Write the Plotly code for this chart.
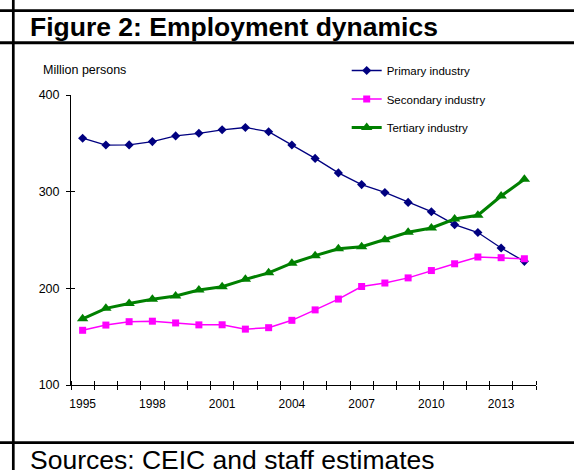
import plotly.graph_objects as go

years = list(range(1995, 2015))
primary = [355.3, 348.2, 348.4, 351.8, 357.7, 360.4, 364.0, 366.4, 362.0, 348.3,
           334.4, 319.4, 307.3, 299.2, 288.9, 279.3, 265.9, 257.7, 241.7, 227.9]
secondary = [156.6, 162.0, 165.5, 166.0, 164.2, 162.2, 162.3, 157.8, 159.3, 166.9,
             177.7, 188.9, 201.9, 205.5, 210.8, 218.4, 225.4, 232.4, 231.7, 230.6]
tertiary = [168.5, 179.3, 184.3, 188.6, 192.1, 198.2, 201.7, 209.3, 216.0, 226.0,
            233.8, 241.0, 243.1, 250.3, 258.0, 262.4, 271.7, 275.6, 295.5, 312.8]
series_names = ["Primary industry", "Secondary industry", "Tertiary industry"]
x_labels = [1995, 1998, 2001, 2004, 2007, 2010, 2013]
y_ticks = [100, 200, 300, 400]

W, H = 574, 470
ML, MR, MT, MB = 71, 38, 95, 85
PW, PH = W - ML - MR, H - MT - MB
FONT = "Arial, Liberation Sans, sans-serif"


def px(x):
    return (x - ML) / PW


def py(y):
    return (H - MB - y) / PH


fig = go.Figure()
fig.add_trace(go.Scatter(
    x=years, y=primary, name=series_names[0], legendgroup="a",
    mode="lines+markers", line=dict(color="#000080", width=1.3),
    marker=dict(symbol="diamond", size=7, color="#000080"), xaxis="x", yaxis="y"))
fig.add_trace(go.Scatter(
    x=years, y=secondary, name=series_names[1], legendgroup="b",
    mode="lines+markers", line=dict(color="#FF00FF", width=1.5),
    marker=dict(symbol="square", size=7, color="#FF00FF"), xaxis="x", yaxis="y"))
fig.add_trace(go.Scatter(
    x=years, y=tertiary, name=series_names[2], legendgroup="c",
    mode="lines+markers", line=dict(color="#008000", width=3),
    marker=dict(symbol="triangle-up", size=10, color="#008000"), xaxis="x2", yaxis="y2"))

xr = [years[0] - 0.5, years[-1] + 0.5]
yr = [y_ticks[0], y_ticks[-1]]
bounds = [y - 0.5 for y in years] + [years[-1] + 0.5]

common_x = dict(range=xr, showgrid=False, zeroline=False, fixedrange=True)
common_y = dict(range=yr, showgrid=False, zeroline=False, fixedrange=True)

fig.update_layout(
    width=W, height=H,
    margin=dict(l=ML, r=MR, t=MT, b=MB, pad=0),
    paper_bgcolor="white", plot_bgcolor="white",
    font=dict(family=FONT, color="#000000", size=12),
    showlegend=True,
    legend=dict(x=px(346.7), y=py(56), xanchor="left", yanchor="top",
                font=dict(size=11.5, family=FONT), tracegroupgap=9.5,
                bgcolor="rgba(0,0,0,0)", borderwidth=0),
    xaxis=dict(**common_x, tickmode="array", tickvals=x_labels,
               ticktext=[str(v) for v in x_labels], ticks="",
               showline=True, linecolor="#000000", linewidth=1,
               tickfont=dict(size=12), ticklabelstandoff=8,
               minor=dict(tickmode="array", tickvals=bounds, ticks="outside",
                          ticklen=4, tickwidth=1, tickcolor="#000000")),
    yaxis=dict(**common_y, tickmode="array", tickvals=y_ticks, ticks="outside",
               ticklen=4, tickwidth=1, tickcolor="#000000",
               showline=True, linecolor="#000000", linewidth=1,
               tickfont=dict(size=12.5), ticklabelstandoff=4),
    xaxis2=dict(**common_x, overlaying="x", anchor="y2", side="bottom",
                tickmode="array", tickvals=x_labels, ticks="", showticklabels=False,
                showline=False,
                minor=dict(tickmode="array", tickvals=bounds, ticks="inside",
                           ticklen=4, tickwidth=1, tickcolor="#000000")),
    yaxis2=dict(**common_y, overlaying="y", anchor="x2", side="left",
                tickmode="array", tickvals=y_ticks, ticks="inside", ticklen=4,
                tickwidth=1, tickcolor="#000000", showticklabels=False,
                showline=False),
)

line_color = "#000000"
shapes = [
    dict(type="line", xref="paper", yref="paper", x0=px(13.3), x1=px(13.3),
         y0=py(-5), y1=py(H + 5), line=dict(color=line_color, width=2.7)),
    dict(type="line", xref="paper", yref="paper", x0=px(-5), x1=px(W + 5),
         y0=py(10.7), y1=py(10.7), line=dict(color=line_color, width=2.7)),
    dict(type="line", xref="paper", yref="paper", x0=px(-5), x1=px(W + 5),
         y0=py(42.7), y1=py(42.7), line=dict(color=line_color, width=3)),
    dict(type="line", xref="paper", yref="paper", x0=px(-5), x1=px(W + 5),
         y0=py(442.7), y1=py(442.7), line=dict(color=line_color, width=2.7)),
]
fig.update_layout(shapes=shapes)

fig.add_annotation(text="<b>Figure 2: Employment dynamics</b>", xref="paper", yref="paper",
                   x=px(27.5), y=py(27), xanchor="left", yanchor="middle",
                   showarrow=False, font=dict(size=26.5, family=FONT, color="#000000"))
fig.add_annotation(text="Sources: CEIC and staff estimates", xref="paper", yref="paper",
                   x=px(27.5), y=py(460), xanchor="left", yanchor="middle",
                   showarrow=False, font=dict(size=26.5, family=FONT, color="#000000"))
fig.add_annotation(text="Million persons", xref="paper", yref="paper",
                   x=px(40.5), y=py(70), xanchor="left", yanchor="middle",
                   showarrow=False, font=dict(size=12.5, family=FONT, color="#000000"))

fig.write_html("out.html",
               config={"displayModeBar": False, "staticPlot": True},
               post_script="document.body.style.margin='0';document.body.style.overflow='hidden';")
